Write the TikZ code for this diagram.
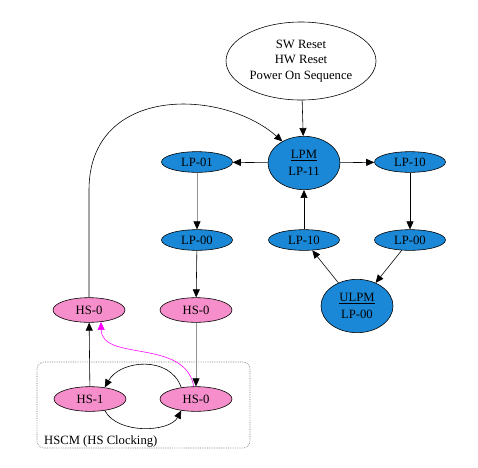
\documentclass[tikz,border=0pt]{standalone}
\usepackage{fontspec}
\setmainfont{Liberation Serif}
\usetikzlibrary{positioning,arrows.meta,shapes.geometric}
\definecolor{lpblue}{RGB}{26,136,214}
\definecolor{hspink}{RGB}{245,142,202}
\definecolor{hsback}{RGB}{255,0,255}

\begin{document}
\begin{tikzpicture}[x=0.03cm,y=-0.03cm,line width=0.5pt,
  font=\fontsize{10.8}{13}\selectfont,
  >={Triangle[length=2.4mm,width=2.1mm]},
  lp/.style={ellipse,draw,fill=lpblue,inner sep=0pt,minimum width=2.13cm,minimum height=0.62cm},
  lpbig/.style={ellipse,draw,fill=lpblue,inner sep=0pt,minimum width=2.16cm,minimum height=1.6cm,align=center},
  hs/.style={ellipse,draw,fill=hspink,inner sep=0pt,minimum width=2.16cm,minimum height=0.74cm},
  faint/.style={draw=gray!85,-{Triangle[length=2.4mm,width=2.1mm,color=black]}}]
  \useasboundingbox (0,0) rectangle (478,467);
  % clocking box
  \draw[gray!90!black,dash pattern=on 0.6pt off 0.9pt,rounded corners=6pt] (37,362) rectangle (250,448);
  \node[anchor=west] (hscm) at (40,441) {HSCM (HS Clocking)};
  % reset sources
  \node[ellipse,draw,inner sep=0pt,minimum width=4.5cm,minimum height=2.34cm,align=center] (reset) at (301,61)
    {SW Reset\\HW Reset\\Power On Sequence};
  % low power states
  \node[lpbig] (lpm) at (304,163) {\underline{LPM}\\[1pt]LP-11};
  \node[lp] (lp01) at (197,162) {LP-01};
  \node[lp] (lp10r) at (410,162) {LP-10};
  \node[lp] (lp00l) at (197,240) {LP-00};
  \node[lp] (lp10m) at (304,240) {LP-10};
  \node[lp] (lp00r) at (410,240) {LP-00};
  \node[lpbig] (ulpm) at (357,306) {\underline{ULPM}\\[1pt]LP-00};
  % high speed states
  \node[hs] (hs0l) at (89,310) {HS-0};
  \node[hs] (hs0m) at (196,310) {HS-0};
  \node[hs] (hs1) at (90,399) {HS-1};
  \node[hs] (hs0b) at (196,399) {HS-0};

  \draw[->] (reset) -- (lpm);
  \draw[->] (lpm) -- (lp01);
  \draw[->] (lpm) -- (lp10r);
  \draw[faint] (lp01) -- (lp00l);
  \draw[->] (lp00l) -- (hs0m);
  \draw[faint] (hs0m) -- (hs0b);
  \draw[->] (lp10r) -- (lp00r);
  \draw[->] (lp00r) -- (ulpm);
  \draw[->] (ulpm) -- (lp10m);
  \draw[->] (lp10m) -- (lpm);
  \draw[->] (hs1) -- (hs0l);
  \draw[->] (hs0l.north) -- (89,190) .. controls (89,85) and (222,88) .. (lpm.135);
  \draw[->] (hs0b.142) .. controls (170,355) and (120,360) .. (hs1.38);
  \draw[->] (hs1.-38) .. controls (118,435) and (170,432) .. (hs0b.-142);
  \draw[->,hsback] (hs0b.100) .. controls (185,338) and (102,362) .. (hs0l.-45);
\end{tikzpicture}
\end{document}
